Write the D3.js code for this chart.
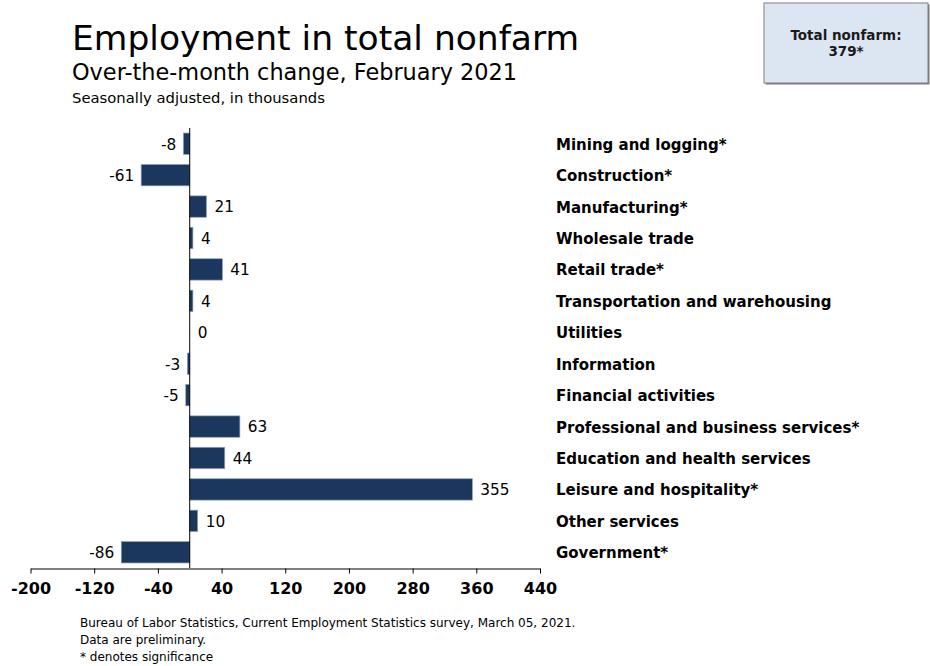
<!DOCTYPE html>
<html>
<head>
<meta charset="utf-8">
<script src="https://cdn.jsdelivr.net/npm/d3@7"></script>
<style>
  html, body { margin: 0; padding: 0; background: #fff; }
  svg { display: block; font-family: Tahoma, "DejaVu Sans", Verdana, sans-serif; }
</style>
</head>
<body>
<svg id="chart" width="930" height="666"></svg>
<script>
// Over-the-month change by industry, thousands (February 2021)
const industries = [
  "Mining and logging*",
  "Construction*",
  "Manufacturing*",
  "Wholesale trade",
  "Retail trade*",
  "Transportation and warehousing",
  "Utilities",
  "Information",
  "Financial activities",
  "Professional and business services*",
  "Education and health services",
  "Leisure and hospitality*",
  "Other services",
  "Government*"
];
const changes = [-8, -61, 21, 4, 41, 4, 0, -3, -5, 63, 44, 355, 10, -86];
const xTicks = [-200, -120, -40, 40, 120, 200, 280, 360, 440];
const totalNonfarm = "379*";

const svg = d3.select("#chart");
const barFill = "#1b375e";

const x = d3.scaleLinear().domain([-200, 440]).range([30.5, 540]);
const y = d3.scaleBand().domain(industries).range([128, 568]).paddingInner(0.32).paddingOuter(0.16);

// Titles
svg.append("text").attr("x", 72).attr("y", 50)
  .attr("font-size", 34.5).attr("fill", "#000").text("Employment in total nonfarm");
svg.append("text").attr("x", 72).attr("y", 80)
  .attr("font-size", 22.4).attr("fill", "#000").text("Over-the-month change, February 2021");
svg.append("text").attr("x", 72).attr("y", 103)
  .attr("font-size", 14.8).attr("fill", "#000").text("Seasonally adjusted, in thousands");

// Total nonfarm box with drop shadow
const box = { x: 764, y: 3, w: 164, h: 80 };
svg.append("rect").attr("x", box.x + 1.5).attr("y", box.y + 1.5).attr("width", box.w).attr("height", box.h)
  .attr("fill", "#7a7a7a");
svg.append("rect").attr("x", box.x).attr("y", box.y).attr("width", box.w).attr("height", box.h)
  .attr("fill", "#dce6f2").attr("stroke", "#808080").attr("stroke-width", 1);
svg.append("text").attr("x", box.x + box.w / 2).attr("y", 40).attr("text-anchor", "middle")
  .attr("font-size", 13.5).attr("font-weight", "bold").attr("fill", "#1a1a1a").text("Total nonfarm:");
svg.append("text").attr("x", box.x + box.w / 2).attr("y", 56).attr("text-anchor", "middle")
  .attr("font-size", 13.5).attr("font-weight", "bold").attr("fill", "#1a1a1a").text(totalNonfarm);

// Bars
const rows = industries.map((name, i) => ({ name, value: changes[i] }));
svg.append("g").selectAll("rect").data(rows).join("rect")
  .attr("x", d => x(Math.min(0, d.value)))
  .attr("y", d => y(d.name))
  .attr("width", d => Math.abs(x(d.value) - x(0)))
  .attr("height", y.bandwidth())
  .attr("fill", barFill)
  .attr("stroke", "#8da0bb")
  .attr("stroke-width", d => d.value === 0 ? 0 : 0.7);

// Value labels
svg.append("g").selectAll("text").data(rows).join("text")
  .attr("x", d => d.value < 0 ? x(d.value) - 7 : x(d.value) + 8)
  .attr("y", d => y(d.name) + y.bandwidth() / 2)
  .attr("dy", "0.38em")
  .attr("text-anchor", d => d.value < 0 ? "end" : "start")
  .attr("font-size", 15.3).attr("fill", "#000")
  .text(d => String(d.value));

// Category labels
svg.append("g").selectAll("text").data(rows).join("text")
  .attr("x", 556)
  .attr("y", d => y(d.name) + y.bandwidth() / 2)
  .attr("dy", "0.4em")
  .attr("font-size", 15).attr("font-weight", "bold").attr("fill", "#000")
  .text(d => d.name);

// Zero line
svg.append("line").attr("x1", x(0)).attr("x2", x(0)).attr("y1", 128).attr("y2", 568)
  .attr("stroke", "#000").attr("stroke-width", 1);

// X axis
const axis = svg.append("g").attr("transform", "translate(0,568.5)")
  .call(d3.axisBottom(x).tickValues(xTicks).tickFormat(d => String(d))
    .tickSize(5).tickSizeOuter(0).tickPadding(9));
axis.attr("font-family", null);
axis.select(".domain").attr("stroke", "#000");
axis.selectAll(".tick line").attr("stroke", "#000");
axis.selectAll(".tick text")
  .attr("font-size", 16).attr("font-weight", "bold").attr("fill", "#000");

// Source notes
const notes = [
  "Bureau of Labor Statistics, Current Employment Statistics survey, March 05, 2021.",
  "Data are preliminary.",
  "* denotes significance"
];
svg.append("g").selectAll("text").data(notes).join("text")
  .attr("x", 80).attr("y", (d, i) => 627 + i * 17)
  .attr("font-size", 12).attr("fill", "#000")
  .text(d => d);
</script>
</body>
</html>
